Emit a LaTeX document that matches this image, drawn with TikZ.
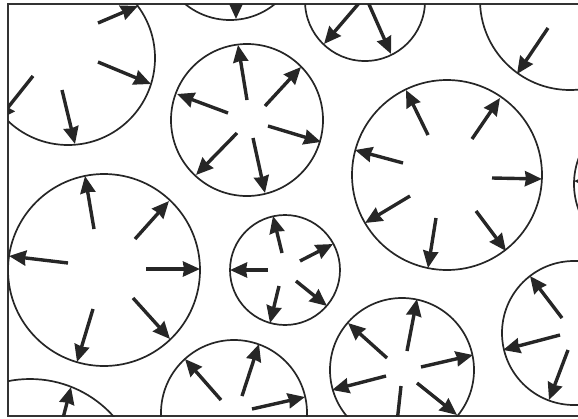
\documentclass[tikz,border=0pt]{standalone}
\usetikzlibrary{arrows.meta}

\tikzset{
  bubble/.style={line width=1.7pt, draw=black!85},
  vec/.style={line width=3.4pt, draw=black!85, fill=black!85,
    -{Stealth[length=17pt, width=15pt, inset=1pt]}},
  frame/.style={line width=1.8pt, draw=black!80}
}

\begin{document}
\begin{tikzpicture}[x=1pt, y=-1pt]
    \useasboundingbox (0,0) rectangle (578,418);
    \draw[frame] (578,4) -- (8,4) -- (8,416) -- (578,416);
    \begin{scope}
    \clip (8,4) rectangle (578,416);
    % bubbles
    \foreach \cx/\cy/\r in {68/58/87, 230/-51/71, 247/120/76, 365/1/60,
        570/0/90, 447/175/95, 648/184/74, 104/270/96, 285/270/55,
        30/491/112, 234/413/73, 402/370/72, 574/333/72}
        \draw[bubble] (\cx,\cy) circle[radius=\r pt];
    % arrows, tail/tip
    \foreach \ax/\ay/\bx/\by in {98/23/138/6, 98/62/151/84, 62/90/75/144, 33/76/-2/120,
        236/-5/236/19,
        247/100/238/45, 265/106/301/67, 228/113/177/94, 268/126/321/142,
        237/133/196/175, 253/138/265/193,
        360/2/324/44, 368/2/391/54,
        548/28/517/74,
        428/135/406/90, 472/139/500/98, 403/163/355/150, 492/178/542/179,
        410/196/365/223, 436/218/428/268, 476/211/506/251,
        610/182/574/181,
        94/229/85/176, 135/239/169/201, 68/263/9/256, 146/269/200/269,
        93/309/77/362, 133/298/170/339,
        282/253/273/216, 268/270/230/270, 279/286/270/323, 300/261/333/244,
        296/281/327/306,
        60/430/71/387,
        221/400/185/359, 242/396/259/344, 252/409/305/397,
        387/358/348/323, 407/351/417/299, 421/367/473/355, 386/376/332/390,
        401/386/395/441, 417/383/457/415,
        562/318/530/276, 560/335/503/350, 568/350/549/400}
        \draw[vec] (\ax,\ay) -- (\bx,\by);
    \end{scope}
\end{tikzpicture}
\end{document}
